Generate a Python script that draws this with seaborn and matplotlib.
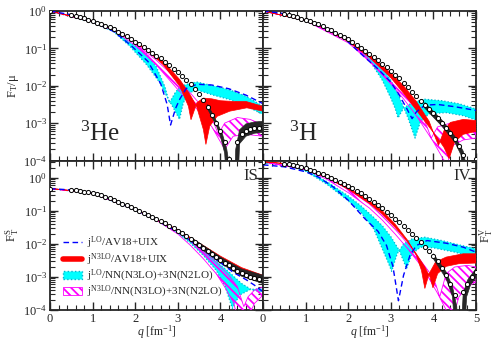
import numpy as np
import matplotlib
matplotlib.use("Agg")
import matplotlib.pyplot as plt
import seaborn as sns
from matplotlib.patches import Patch
from matplotlib.lines import Line2D
from matplotlib.ticker import MultipleLocator, LogLocator, NullFormatter

# ---------- data: (q [fm^-1], log10 F) ----------
EXP_Q = [0.0, 0.5, 0.6, 0.7, 0.8, 0.9, 1.0, 1.1, 1.2, 1.3, 1.4, 1.5, 1.6, 1.7, 1.8, 1.9,
         2.0, 2.1, 2.2, 2.3, 2.4, 2.5, 2.6, 2.7, 2.8, 2.9, 3.0, 3.1, 3.2, 3.3, 3.4, 3.5,
         3.6, 3.7, 3.8, 3.9, 4.0, 4.1, 4.2, 4.3, 4.4, 4.5, 4.6, 4.7, 4.8, 4.9, 5.0]

# 3He, F_T / mu
HE_EXP = [0.0, -0.10, -0.13, -0.16, -0.20, -0.24, -0.28, -0.32, -0.36, -0.40, -0.44, -0.49, -0.55,
          -0.61, -0.68, -0.75, -0.82, -0.89, -0.97, -1.04, -1.12, -1.20, -1.27, -1.36, -1.45, -1.54,
          -1.63, -1.73, -1.84, -1.95, -2.08, -2.22, -2.38, -2.57, -2.78, -3.00, -3.22, -3.50, -3.95,
          -4.40, -3.50, -3.30, -3.22, -3.17, -3.14, -3.12, -3.10]
HE_DASH = [(0, 0), (0.5, -0.1), (1.0, -0.29), (1.5, -0.55), (1.9, -0.92), (2.3, -1.35), (2.6, -1.95),
           (2.75, -2.5), (2.83, -3.05), (2.95, -2.6), (3.05, -2.35), (3.2, -2.07), (3.45, -1.96),
           (3.8, -1.98), (4.2, -2.08), (4.6, -2.25), (5.0, -2.48)]
HE_CYAN1 = [(0, 0), (1.0, -0.29), (1.5, -0.53), (1.9, -0.86), (2.27, -1.15), (2.5, -1.5), (2.7, -2.03),
            (2.8, -2.46), (2.93, -2.2), (3.05, -2.02), (3.3, -1.93), (3.45, -1.9), (3.83, -2.0),
            (4.22, -2.11), (4.62, -2.29), (5.0, -2.55)]
HE_CYAN2 = [(0, 0), (1.0, -0.3), (1.5, -0.56), (1.88, -0.95), (2.27, -1.44), (2.58, -1.92), (2.74, -2.28),
            (2.9, -2.6), (3.04, -2.9), (3.13, -2.46), (3.25, -2.2), (3.44, -2.11), (3.83, -2.25),
            (4.22, -2.37), (4.62, -2.55), (5.0, -2.77)]
HE_RED1 = [(0, 0), (1.0, -0.28), (1.5, -0.5), (2.0, -0.84), (2.3, -1.08), (2.66, -1.44), (3.05, -2.02),
           (3.25, -2.55), (3.31, -2.91), (3.45, -2.45), (3.6, -2.33), (3.8, -2.35), (4.0, -2.4),
           (4.3, -2.42), (4.6, -2.42), (5.0, -2.55)]
HE_RED2 = [(0, 0), (1.0, -0.28), (1.5, -0.49), (2.0, -0.82), (2.3, -1.04), (2.66, -1.35), (3.05, -1.84),
           (3.29, -2.24), (3.44, -2.55), (3.6, -3.17), (3.66, -3.57), (3.75, -3.08), (3.92, -2.82),
           (4.22, -2.68), (4.62, -2.59), (5.0, -2.68)]
HE_MAG1 = [(0, 0), (1.0, -0.28), (1.5, -0.5), (2.0, -0.86), (2.5, -1.32), (3.0, -1.85), (3.3, -2.2),
           (3.6, -2.6), (3.85, -3.0), (3.95, -3.3), (4.1, -3.0), (4.4, -2.85), (4.7, -2.9), (5.0, -3.05)]
HE_MAG2 = [(0, 0), (1.0, -0.29), (1.5, -0.53), (2.0, -0.92), (2.5, -1.45), (3.0, -2.1), (3.3, -2.45),
           (3.6, -2.8), (3.8, -3.1), (4.0, -3.5), (4.1, -3.7), (4.3, -3.35), (4.6, -3.3), (5.0, -3.35)]
HE_BLK1 = [(3.7, -2.5), (3.9, -2.93), (4.05, -3.3), (4.15, -3.7), (4.22, -4.2), (4.25, -5), (4.32, -5),
           (4.36, -3.7), (4.45, -3.18), (4.6, -3.02), (4.8, -2.97), (5.0, -2.95)]
HE_BLK2 = [(3.7, -2.62), (3.9, -3.05), (4.0, -3.35), (4.1, -3.8), (4.17, -5), (4.4, -5), (4.45, -3.55),
           (4.6, -3.35), (4.8, -3.27), (5.0, -3.25)]

# 3H, F_T / mu
H3_EXP = [0.0, -0.07, -0.10, -0.13, -0.17, -0.21, -0.25, -0.28, -0.32, -0.36, -0.41, -0.47, -0.52,
          -0.58, -0.64, -0.70, -0.76, -0.83, -0.90, -0.98, -1.06, -1.14, -1.22, -1.31, -1.41, -1.50,
          -1.60, -1.70, -1.80, -1.92, -2.04, -2.16, -2.28, -2.40, -2.52, -2.63, -2.74, -2.86, -3.00,
          -3.13, -3.27, -3.42, -3.60, -3.85, -4.30, -4.40, -3.95]
H3_DASH = [(0, 0), (0.5, -0.07), (1.0, -0.25), (1.5, -0.48), (1.9, -0.72), (2.4, -1.25), (2.7, -1.55),
           (3.0, -1.9), (3.2, -2.25), (3.37, -2.6), (3.5, -2.88), (3.6, -2.7), (3.8, -2.52), (4.1, -2.5),
           (4.5, -2.56), (5.0, -2.66)]
H3_CYAN1 = [(0, 0), (1.0, -0.25), (1.5, -0.48), (2.0, -0.8), (2.5, -1.32), (2.8, -1.85), (3.0, -2.33),
            (3.1, -2.6), (3.17, -2.86), (3.3, -2.6), (3.5, -2.45), (3.8, -2.36), (4.2, -2.4),
            (4.6, -2.48), (5.0, -2.62)]
H3_CYAN2 = [(0, 0), (1.0, -0.25), (1.5, -0.47), (2.0, -0.76), (2.5, -1.25), (2.8, -1.5), (3.0, -1.85),
            (3.2, -2.3), (3.4, -2.85), (3.57, -3.4), (3.7, -2.95), (3.9, -2.75), (4.3, -2.72),
            (4.7, -2.8), (5.0, -2.92)]
H3_RED1 = [(0, 0), (1.0, -0.25), (1.5, -0.48), (2.0, -0.78), (2.5, -1.17), (3.0, -1.66), (3.3, -2.0),
           (3.6, -2.42), (3.9, -2.95), (4.05, -3.4), (4.12, -3.6), (4.25, -3.2), (4.4, -2.98),
           (4.7, -2.9), (5.0, -2.93)]
H3_RED2 = [(0, 0), (1.0, -0.25), (1.5, -0.5), (2.0, -0.82), (2.5, -1.24), (3.0, -1.78), (3.3, -2.2),
           (3.6, -2.65), (3.9, -3.1), (4.1, -3.4), (4.25, -3.65), (4.37, -3.95), (4.5, -3.5),
           (4.7, -3.3), (5.0, -3.22)]
H3_MAG1 = [(0, 0), (1.0, -0.25), (2.0, -0.8), (2.5, -1.25), (3.0, -1.78), (3.3, -2.15), (3.6, -2.6),
           (3.8, -2.95), (3.95, -3.4), (4.1, -3.1), (4.4, -3.0), (4.7, -3.05), (5.0, -3.15)]
H3_MAG2 = [(0, 0), (1.0, -0.26), (2.0, -0.85), (2.5, -1.35), (3.0, -1.95), (3.3, -2.35), (3.6, -2.8),
           (3.8, -3.15), (4.0, -3.5), (4.2, -3.9), (4.3, -4.2), (4.45, -3.6), (4.7, -3.45), (5.0, -3.4)]
H3_BLK1 = [(3.8, -2.45), (4.2, -2.92), (4.5, -3.35), (4.7, -3.75), (4.78, -4.2), (4.82, -5), (4.95, -5),
           (5.0, -3.85)]
H3_BLK2 = [(3.8, -2.6), (4.2, -3.08), (4.5, -3.5), (4.65, -3.85), (4.72, -5), (5.0, -5)]

# isoscalar F_T^S
IS_EXP = [-0.33, -0.36, -0.38, -0.40, -0.42, -0.44, -0.46, -0.50, -0.53, -0.57, -0.62, -0.67, -0.72,
          -0.78, -0.84, -0.90, -0.95, -1.01, -1.07, -1.13, -1.19, -1.25, -1.31, -1.38, -1.45, -1.52,
          -1.60, -1.68, -1.76, -1.85, -1.94, -2.03, -2.12, -2.21, -2.30, -2.39, -2.48, -2.57, -2.65,
          -2.73, -2.81, -2.88, -2.94, -2.99, -3.03, -3.06, -3.09]
IS_DASH = [(0, -0.33), (0.5, -0.37), (1.0, -0.47), (1.5, -0.68), (2.0, -0.97), (2.5, -1.28), (3.0, -1.64),
           (3.5, -2.08), (4.0, -2.56), (4.3, -2.86), (4.6, -3.08), (4.8, -3.25), (5.0, -3.45)]
IS_RED1 = [(0, -0.32), (1.0, -0.45), (2.0, -0.94), (3.0, -1.57), (3.5, -1.97), (4.0, -2.37), (4.5, -2.72),
           (5.0, -2.95)]
IS_RED2 = [(0, -0.33), (1.0, -0.46), (2.0, -0.95), (3.0, -1.6), (3.5, -2.01), (4.0, -2.43), (4.5, -2.79),
           (5.0, -3.03)]
IS_CYAN1 = [(0, -0.33), (1.0, -0.47), (2.0, -0.97), (2.5, -1.29), (3.0, -1.68), (3.3, -1.98), (3.6, -2.35),
            (3.9, -2.8), (4.1, -3.25), (4.28, -3.95), (4.45, -3.55), (4.7, -3.38), (5.0, -3.35)]
IS_CYAN2 = [(0, -0.33), (1.0, -0.47), (2.0, -0.96), (2.5, -1.27), (3.0, -1.63), (3.3, -1.9), (3.6, -2.2),
            (3.9, -2.52), (4.2, -2.85), (4.5, -3.2), (4.75, -3.4), (5.0, -3.45)]
IS_MAG1 = [(0, -0.33), (1.0, -0.47), (2.0, -0.96), (2.5, -1.27), (3.0, -1.63), (3.3, -1.92), (3.6, -2.22),
           (3.9, -2.56), (4.2, -2.95), (4.4, -3.3), (4.55, -3.9), (4.65, -3.6), (4.8, -3.4), (5.0, -3.3)]
IS_MAG2 = [(0, -0.33), (1.0, -0.47), (2.0, -0.97), (2.5, -1.29), (3.0, -1.7), (3.3, -2.05), (3.6, -2.45),
           (3.9, -2.9), (4.1, -3.3), (4.3, -3.75), (4.42, -4.3), (4.62, -4.3), (4.8, -3.8), (5.0, -3.55)]
IS_BLK1 = [(3.3, -1.8), (3.6, -2.05), (4.0, -2.4), (4.5, -2.76), (5.0, -2.95)]
IS_BLK2 = [(3.3, -1.92), (3.6, -2.2), (4.0, -2.58), (4.5, -2.98), (5.0, -3.2)]

# isovector F_T^V
IV_EXP = [0.48, 0.42, 0.40, 0.38, 0.35, 0.32, 0.28, 0.24, 0.20, 0.15, 0.10, 0.05, 0.0, -0.06, -0.12,
          -0.18, -0.25, -0.32, -0.39, -0.47, -0.55, -0.64, -0.73, -0.83, -0.93, -1.03, -1.13, -1.24,
          -1.34, -1.45, -1.57, -1.69, -1.81, -1.94, -2.08, -2.22, -2.37, -2.53, -2.72, -2.93, -3.20,
          -3.55, -4.30, -3.45, -3.20, -3.00, -2.85]
IV_DASH = [(0, 0.39), (0.5, 0.33), (1.0, 0.18), (1.3, 0.02), (1.65, -0.28), (2.0, -0.68), (2.4, -1.25),
           (2.7, -1.62), (2.9, -2.05), (3.05, -2.68), (3.18, -3.72), (3.3, -2.95), (3.45, -2.35),
           (3.6, -2.05), (3.85, -1.9), (4.3, -1.98), (4.7, -2.1), (5.0, -2.25)]
IV_CYAN1 = [(0, 0.45), (0.5, 0.38), (1.0, 0.2), (1.5, -0.2), (2.0, -0.7), (2.3, -1.05), (2.6, -1.55),
            (2.8, -2.15), (2.95, -2.6), (3.02, -2.83), (3.15, -2.3), (3.3, -2.0), (3.5, -1.85),
            (3.8, -1.8), (4.2, -1.9), (4.6, -2.03), (5.0, -2.15)]
IV_CYAN2 = [(0, 0.46), (0.5, 0.4), (1.0, 0.24), (1.5, -0.12), (2.0, -0.55), (2.3, -0.85), (2.6, -1.2),
            (2.8, -1.45), (3.0, -1.78), (3.2, -2.2), (3.37, -2.75), (3.5, -2.3), (3.7, -2.1),
            (4.0, -2.12), (4.5, -2.25), (5.0, -2.42)]
IV_RED1 = [(0, 0.48), (0.5, 0.43), (1.0, 0.27), (1.5, 0.03), (2.0, -0.3), (2.5, -0.7), (2.8, -1.0),
           (3.1, -1.4), (3.4, -1.9), (3.6, -2.35), (3.72, -2.8), (3.8, -3.35), (3.9, -2.9),
           (4.05, -2.55), (4.3, -2.4), (4.7, -2.3), (5.0, -2.3)]
IV_RED2 = [(0, 0.48), (0.5, 0.43), (1.0, 0.26), (1.5, 0.0), (2.0, -0.35), (2.5, -0.78), (2.8, -1.1),
           (3.1, -1.5), (3.4, -1.95), (3.6, -2.3), (3.8, -2.7), (3.92, -3.0), (3.99, -3.33),
           (4.1, -2.9), (4.3, -2.68), (4.6, -2.6), (5.0, -2.58)]
IV_MAG1 = [(0, 0.48), (1.0, 0.26), (1.5, 0.0), (2.0, -0.35), (2.5, -0.8), (2.8, -1.15), (3.1, -1.55),
           (3.4, -2.0), (3.7, -2.5), (3.9, -2.85), (4.05, -3.2), (4.15, -3.6), (4.3, -2.9), (4.5, -2.7),
           (4.8, -2.65), (5.0, -2.7)]
IV_MAG2 = [(0, 0.48), (1.0, 0.24), (1.5, -0.05), (2.0, -0.45), (2.5, -0.92), (2.8, -1.28), (3.1, -1.7),
           (3.4, -2.15), (3.7, -2.65), (3.9, -3.05), (4.1, -3.5), (4.3, -4.0), (4.45, -4.3), (4.6, -3.6),
           (4.8, -3.3), (5.0, -3.15)]
IV_BLK1 = [(4.0, -2.3), (4.3, -2.85), (4.45, -3.3), (4.55, -3.9), (4.58, -5), (4.64, -5), (4.7, -3.5),
           (4.8, -3.1), (5.0, -2.75)]
IV_BLK2 = [(4.0, -2.45), (4.3, -3.05), (4.45, -3.6), (4.52, -5), (4.72, -5), (4.78, -3.6),
           (4.87, -3.25), (5.0, -3.0)]

LEGEND_LABELS = [r"j$^{\rm LO}$/AV18+UIX", r"j$^{\rm N3LO}$/AV18+UIX",
                 r"j$^{\rm LO}$/NN(N3LO)+3N(N2LO)", r"j$^{\rm N3LO}$/NN(N3LO)+3N(N2LO)"]

BLUE, RED, CYAN, CYAN_EDGE, MAGENTA = "#0000ff", "#ff0000", "#00ffff", "#00b4d0", "#ff00ff"

sns.set_style("ticks")
plt.rcParams["font.family"] = ["Liberation Serif", "DejaVu Serif"]
plt.rcParams["mathtext.fontset"] = "custom"
plt.rcParams["mathtext.rm"] = "Liberation Serif"
plt.rcParams["mathtext.it"] = "Liberation Serif:italic"
plt.rcParams["hatch.linewidth"] = 1.3


def unpack(points):
    q = [p[0] for p in points]
    f = [10.0 ** p[1] for p in points]
    return q, f


def band(ax, a, b, **kw):
    qa, fa = unpack(a)
    qb, fb = unpack(b)
    ax.fill(qa + qb[::-1], fa + fb[::-1], **kw)


def draw_panel(ax, exp, dash, cyan, mag, red, blk):
    ax.set_yscale("log")
    band(ax, cyan[0], cyan[1], facecolor=CYAN, edgecolor="none", zorder=2)
    for edge in cyan:
        q, f = unpack(edge)
        ax.plot(q, f, ls=":", color=CYAN_EDGE, lw=0.9, zorder=2.1)
    band(ax, mag[0], mag[1], facecolor="none", edgecolor=MAGENTA, hatch="\\\\\\\\", lw=0.6, zorder=3)
    band(ax, red[0], red[1], facecolor=RED, edgecolor=RED, lw=0.5, zorder=4)
    band(ax, blk[0], blk[1], facecolor="#262626", edgecolor="#262626", lw=0.5, zorder=5)
    q, f = unpack(dash)
    sns.lineplot(x=q, y=f, ax=ax, color=BLUE, lw=1.0, linestyle=(0, (4, 2.5)), zorder=6)
    sns.scatterplot(x=EXP_Q, y=[10.0 ** v for v in exp], ax=ax, s=9, color="white",
                    edgecolor="black", linewidth=0.7, zorder=7)


fig, axes = plt.subplots(2, 2, figsize=(4.97, 3.41), dpi=100)
plt.subplots_adjust(left=0.1006, right=0.9577, top=0.9677, bottom=0.0909, wspace=0, hspace=0)
(ax_he, ax_h3), (ax_is, ax_iv) = axes

draw_panel(ax_he, HE_EXP, HE_DASH, (HE_CYAN1, HE_CYAN2), (HE_MAG1, HE_MAG2), (HE_RED1, HE_RED2),
           (HE_BLK1, HE_BLK2))
draw_panel(ax_h3, H3_EXP, H3_DASH, (H3_CYAN1, H3_CYAN2), (H3_MAG1, H3_MAG2), (H3_RED1, H3_RED2),
           (H3_BLK1, H3_BLK2))
draw_panel(ax_is, IS_EXP, IS_DASH, (IS_CYAN1, IS_CYAN2), (IS_MAG1, IS_MAG2), (IS_RED1, IS_RED2),
           (IS_BLK1, IS_BLK2))
draw_panel(ax_iv, IV_EXP, IV_DASH, (IV_CYAN1, IV_CYAN2), (IV_MAG1, IV_MAG2), (IV_RED1, IV_RED2),
           (IV_BLK1, IV_BLK2))

for ax in axes.flat:
    ax.set_xlim(0, 5)
    ax.xaxis.set_major_locator(MultipleLocator(1))
    ax.xaxis.set_minor_locator(MultipleLocator(0.2))
    ax.yaxis.set_major_locator(LogLocator(base=10, numticks=10))
    ax.yaxis.set_minor_locator(LogLocator(base=10, subs=np.arange(2, 10), numticks=10))
    ax.yaxis.set_minor_formatter(NullFormatter())
    ax.tick_params(which="both", direction="in", top=True, right=True, labelsize=9, pad=2)
    ax.tick_params(which="major", length=6, width=1.0)
    ax.tick_params(which="minor", length=3.5, width=0.8)
    for s in ax.spines.values():
        s.set_linewidth(1.3)
    ax.set_xlabel("")
    ax.set_ylabel("")

for ax in (ax_he, ax_h3):
    ax.set_ylim(1e-4, 1.0)
    ax.tick_params(labelbottom=False)
for ax in (ax_is, ax_iv):
    ax.set_ylim(1e-4, 10 ** 0.52)
    ax.set_xlabel(r"$q$ [fm$^{-1}$]", fontsize=8.5, labelpad=-1)
for ax in (ax_h3, ax_iv):
    ax.tick_params(labelleft=False)

ax_is.set_xticks([0, 1, 2, 3, 4, 5])
ax_is.set_xticklabels(["0", "1", "2", "3", "4", ""])

ax_he.set_ylabel("F$_{\\rm T}$/μ", fontsize=9, labelpad=2)
ax_is.set_ylabel(r"F$_{\rm T}^{\rm S}$", fontsize=9, labelpad=2)
ax_iv.yaxis.set_label_position("right")
ax_iv.set_ylabel(r"F$_{\rm T}^{\rm V}$", fontsize=9, labelpad=1)

ax_he.text(0.14, 0.13, r"$^{3}$He", transform=ax_he.transAxes, fontsize=18)
ax_h3.text(0.12, 0.13, r"$^{3}$H", transform=ax_h3.transAxes, fontsize=18)
ax_is.text(0.975, 0.87, "IS", transform=ax_is.transAxes, fontsize=12, ha="right")
ax_iv.text(0.975, 0.87, "IV", transform=ax_iv.transAxes, fontsize=12, ha="right")

handles = [
    Line2D([], [], color=BLUE, lw=1.0, linestyle=(0, (4, 2.5))),
    Line2D([], [], color=RED, lw=4),
    Patch(facecolor=CYAN, edgecolor=CYAN_EDGE, linestyle=":", lw=1.0),
    Patch(facecolor="white", edgecolor=MAGENTA, hatch="\\\\\\\\", lw=0.6),
]
ax_is.legend(handles, LEGEND_LABELS, loc="lower left", bbox_to_anchor=(0.03, 0.02), frameon=False,
             fontsize=8, handlelength=1.7, handleheight=0.8, labelspacing=0.02, handletextpad=0.5,
             borderaxespad=0.2)

fig.savefig("out.png", dpi=100)
